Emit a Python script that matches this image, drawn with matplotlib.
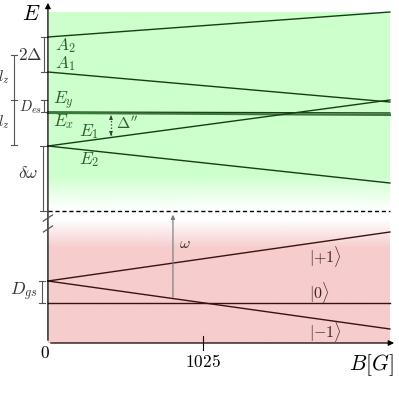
import numpy as np
import matplotlib
matplotlib.use('Agg')
import matplotlib.pyplot as plt

plt.rcParams['mathtext.fontset'] = 'cm'
plt.rcParams['font.family'] = 'DejaVu Serif'

# field axis (Gauss) and level energies (arbitrary units) at B=0 and B=B_end
b_end = 2262
b_tick = 1025
b_field = [0, b_end]

excited_names = ['A_2', 'A_1', 'E_y', 'E_x', 'E_1', 'E_2']
excited_levels = [[306, 331], [271, 241], [231, 230], [230, 228], [197, 243], [197, 160]]
excited_label_y = [297.5, 279, 242, 221, 211, 183]
excited_label_b = [46, 46, 33, 33, 205, 205]

ground_names = [r'|{+}1\rangle', r'|0\rangle', r'|{-}1\rangle']
ground_levels = [[62, 111], [40, 40], [62, 14]]
ground_label_y = [87, 51, 12]

excited_top, excited_bottom, excited_fade = 331, 133, 168
ground_top, ground_fade = 123, 94
dashed_y = 132

green_line = '#163d16'
green_text = '#2b5f2b'
red_line = '#3a1212'
red_text = '#3a2424'
gray = '#555555'

fig = plt.figure(figsize=(3.99, 4.15), dpi=100)
ax = fig.add_axes([0, 0, 1, 1])
ax.set_xlim(-317, 2322)
ax.set_ylim(-72, 343)
ax.axis('off')

# shaded bands with soft edge
n = 200
g = np.ones((n, 1, 4))
g[..., :3] = [0.8, 1.0, 0.8]
yy = np.linspace(excited_top, excited_bottom, n)
g[:, 0, 3] = np.clip((yy - excited_bottom) / (excited_fade - excited_bottom), 0, 1)
ax.imshow(g, extent=[0, b_end, excited_bottom, excited_top], aspect='auto', interpolation='bilinear', zorder=0)

r = np.ones((n, 1, 4))
r[..., :3] = [0.965, 0.80, 0.80]
yy = np.linspace(ground_top, 0, n)
r[:, 0, 3] = np.clip((ground_top - yy) / (ground_top - ground_fade), 0, 1)
ax.imshow(r, extent=[0, b_end, 0, ground_top], aspect='auto', interpolation='bilinear', zorder=0)

# levels
for name, lev in zip(excited_names, excited_levels):
    lw = 1.5 if name == 'E_x' else 1.0
    col = '#3a7a3a' if name == 'E_x' else green_line
    ax.plot(b_field, lev, color=col, lw=lw, zorder=3)
for lev in ground_levels:
    ax.plot(b_field, lev, color=red_line, lw=1.0, zorder=3)

for name, yl, bl in zip(excited_names, excited_label_y, excited_label_b):
    ax.text(bl, yl, f'${name}$', color=green_text, fontsize=12.5, va='center', ha='left')
for name, yl in zip(ground_names, ground_label_y):
    ax.text(1730, yl, f'${name}$', color=red_text, fontsize=11.5, va='center', ha='left')

ax.plot([0, b_end], [dashed_y, dashed_y], color='black', lw=1, ls=(0, (3, 2)), zorder=4)

# axes
ax.annotate('', xy=(0, 343), xytext=(0, 0),
            arrowprops=dict(arrowstyle='-|>', color='black', lw=0.9, mutation_scale=8), zorder=5)
ax.annotate('', xy=(2308, 0), xytext=(0, 0),
            arrowprops=dict(arrowstyle='-|>', color='black', lw=0.9, mutation_scale=8), zorder=5)
for yb in [125, 114]:
    ax.plot([-30, 30], [yb - 3, yb + 3], color=gray, lw=0.9, zorder=5)

ax.plot([b_tick, b_tick], [-7, 7], color='black', lw=0.8)
ax.text(b_tick, -19, '$1025$', fontsize=12.5, ha='center', va='center')
ax.text(-20, -10, '$0$', fontsize=12.5, ha='center', va='center')
ax.text(2290, -22, '$B[G]$', fontsize=15.5, ha='right', va='center')
ax.text(-50, 329, '$E$', fontsize=15.5, ha='right', va='center')

# brackets on the left
def bracket(b, y0, y1, mids=()):
    ax.plot([b, b], [y0, y1], color=gray, lw=0.8)
    for yc in (y0, y1) + tuple(mids):
        ax.plot([b - 22, b + 22], [yc, yc], color=gray, lw=0.8)

bracket(-26, 271, 306)
ax.text(-38, 288, r'$2\Delta$', fontsize=12.5, ha='right', va='center', color='#333333')
bracket(-225, 198, 288, mids=(243,))
ax.text(-255, 266, '$l_z$', fontsize=11, ha='right', va='center', color='#333333')
ax.text(-255, 221, '$l_z$', fontsize=11, ha='right', va='center', color='#333333')
bracket(-26, 231, 243)
ax.text(-36, 236, '$D_{es}$', fontsize=10.5, ha='right', va='center', color='#333333')
bracket(-33, 132, 197)
ax.text(-62, 169, r'$\delta\omega$', fontsize=12.5, ha='right', va='center', color='#333333')
bracket(-40, 40, 62)
ax.text(-72, 51, '$D_{gs}$', fontsize=12.5, ha='right', va='center', color='#333333')

# transition arrows
ax.plot([417, 417], [208, 227], color='#333333', lw=0.9, ls=':')
ax.annotate('', xy=(417, 230), xytext=(417, 224),
            arrowprops=dict(arrowstyle='-|>', color='#333333', lw=0.6, mutation_scale=5))
ax.annotate('', xy=(417, 205), xytext=(417, 211),
            arrowprops=dict(arrowstyle='-|>', color='#333333', lw=0.6, mutation_scale=5))
ax.text(450, 219, r"$\Delta''$", fontsize=11.5, ha='left', va='center', color=green_text)
ax.annotate('', xy=(827, 131), xytext=(827, 43),
            arrowprops=dict(arrowstyle='-|>', color='#777777', lw=0.8, mutation_scale=6))
ax.text(870, 99, r'$\omega$', fontsize=11.5, ha='left', va='center', color=red_text)

fig.savefig('out.png', dpi=100)
